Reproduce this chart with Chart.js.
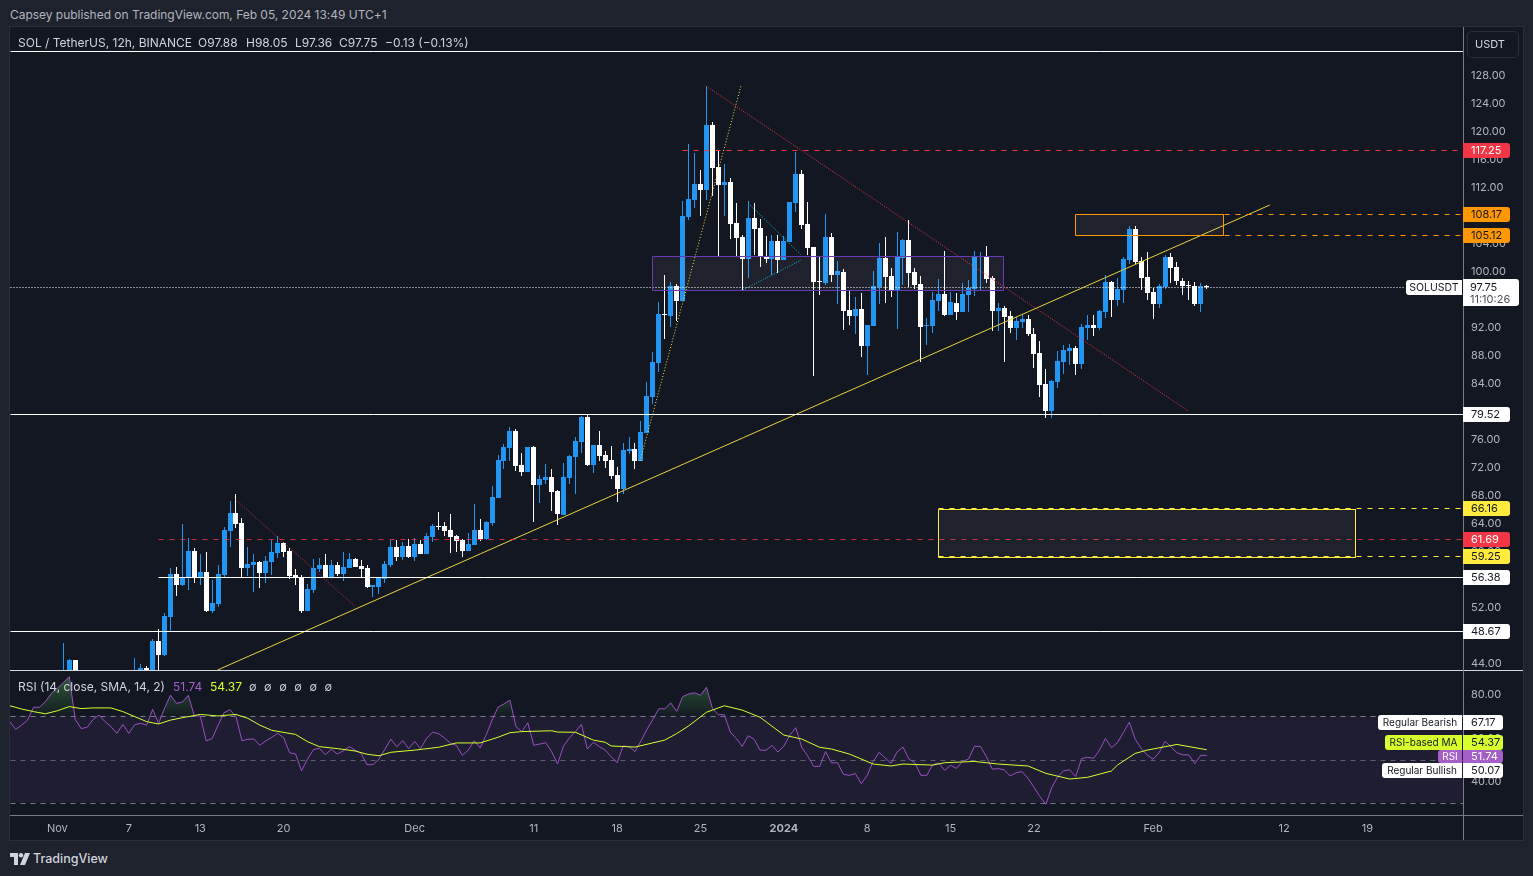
<!DOCTYPE html>
<html>
<head>
<meta charset="utf-8">
<title>SOL / TetherUS</title>
<script src="https://cdn.jsdelivr.net/npm/chart.js@4/dist/chart.umd.js"></script>
<style>
  html, body { margin: 0; padding: 0; width: 1533px; height: 876px; overflow: hidden; background: #1e222d; font-family: Inter, sans-serif; }
  .abs { position: absolute; white-space: nowrap; }
  #pane { position: absolute; left: 9px; top: 26px; width: 1513px; height: 813px; background: #131722; border: 1px solid #2a2e39; }
  canvas { position: absolute; left: 10px; }
  #priceChart { top: 28px; }
  #rsiChart { top: 671px; }
  .legend { color: #d1d4dc; font-size: 12px; line-height: 16px; }
  #usdt { left: 1467px; top: 31px; width: 44px; padding-right: 6px; height: 25px; border: 1px solid #2a2e39; border-radius: 5px; color: #d1d4dc; font-size: 11px; line-height: 25px; text-align: center; }
</style>
</head>
<body>
<div id="pane"></div>
<!-- pane separators -->
<div class="abs" style="left:10px;top:670px;width:1513px;height:1px;background:#d6d8df"></div>
<div class="abs" style="left:10px;top:815px;width:1513px;height:1px;background:#787b86"></div>
<div class="abs" style="left:1463px;top:27px;width:1px;height:813px;background:#787b86"></div>

<canvas id="priceChart" width="1513" height="642"></canvas>
<canvas id="rsiChart" width="1513" height="169"></canvas>

<div class="abs" style="left:10px;top:7px;color:#b2b5be;font-size:12px;line-height:16px;letter-spacing:-0.03px">Capsey published on TradingView.com, Feb 05, 2024 13:49 UTC+1</div>
<div class="abs legend" style="left:18px;top:35px">SOL / TetherUS, 12h, BINANCE</div>
<div class="abs legend" style="left:198px;top:35px">O97.88</div>
<div class="abs legend" style="left:246px;top:35px">H98.05</div>
<div class="abs legend" style="left:295px;top:35px">L97.36</div>
<div class="abs legend" style="left:339px;top:35px">C97.75</div>
<div class="abs legend" style="left:385px;top:35px">−0.13 (−0.13%)</div>
<div class="abs" id="usdt">USDT</div>

<div class="abs legend" style="left:18px;top:679px">RSI (14, close, SMA, 14, 2)</div>
<div class="abs legend" style="left:173px;top:679px;color:#a45fc9">51.74</div>
<div class="abs legend" style="left:210px;top:679px;color:#d7ff2e">54.37</div>
<div class="abs legend" style="left:249px;top:679px;font-size:11px;word-spacing:4.5px">∅ ∅ ∅ ∅ ∅ ∅</div>

<svg class="abs" style="left:10px;top:853px" width="20" height="12" viewBox="0 0 20 12">
  <path d="M0 0h8v12H4V4H0z" fill="#d1d4dc"/><circle cx="11" cy="2.2" r="2.2" fill="#d1d4dc"/><path d="M15 0h5l-5 12h-5z" fill="#d1d4dc"/>
</svg>
<div class="abs" style="left:33px;top:851px;color:#d1d4dc;font-size:12.5px;line-height:16px;font-weight:500">TradingView</div>

<script>
// candles, array position = bar number, null = below the visible pane
const barOpen = [
  41,42,44.43,null,null,null,null,null,null,null,null,null,41.5,42.5,43.3,42.5,47.14,45.14,50.57,56.71,
  55.14,56.29,60,56.29,57,51.43,52.43,56.57,62.86,65.43,64,57.57,58,58.43,56.86,58.43,59.71,61.14,60,56.57,
  56.29,51.43,54.43,57.43,58,56.29,58,56.71,57.57,58.86,57.86,57.57,54.86,54.86,56,58,60.57,59.14,60.71,59.14,
  61,59.57,62,63.57,63.57,63,62.14,61.57,60,60.86,63,61.71,64,67.57,72.86,74.71,77.14,72.29,71.29,74.86,
  69.43,70.14,70.57,68.57,65.14,70.43,73.43,75.57,79.14,72.29,75.14,73.71,73,70.86,68.86,74.29,74.57,72.86,76.86,82,
  86.86,93.8,93.57,97.86,95.71,107.71,110.14,112.43,111.57,120.86,114.86,112.29,112.71,106.86,104.86,101.71,107.57,106.14,102,101.71,
  104.29,101.57,104.14,109.71,113.86,106.71,103.43,98.57,98.29,104.86,99.43,99.86,94.43,93.57,94.57,89.29,92.14,97.71,101.86,99.29,
  97.29,101.86,104.43,99.86,98.14,92.14,92.14,95.71,96.71,93.71,95.43,94.14,96.57,97.43,102,102,99,94.29,94.71,93.57,
  91.86,92.71,93.14,91,88.29,83.86,80,84.14,87,88.57,89,86.71,91.86,92.29,91.86,94.14,98.43,95.86,97.29,101.57,
  106,101.43,99.14,97,95.29,97.71,102,100.57,98.57,98,97.86,95.29,97.88
];
const barHigh = [
  46.86,44.57,44.43,null,null,null,null,null,null,null,null,null,44.71,43.86,43.57,47.43,48.86,51.14,57.57,57.71,
  63.86,61.86,60.43,59.57,59.86,55.86,58,63.43,67.14,68.14,64.71,60.57,59.57,58.57,59.29,61.57,62.14,61.29,60.43,57.43,
  56.57,55.29,58.86,59,59.57,58.71,58.43,59.86,59.71,59,58.71,58,55.14,56.14,58.57,61.57,61.57,61.29,61.71,61.86,
  61.57,62.57,63.86,65.57,64.14,65.29,62.29,61.71,62.57,66.71,64.57,64.29,69.29,73.71,75.29,77.71,77.43,74,74.86,75,
  70.86,72.43,71.71,68.71,72.57,73.71,76.29,79.29,79.43,75.14,77.14,74.29,75,72,75.43,76.29,75.43,78.57,84.14,88.43,
  95.57,99.43,98.43,98.14,110,118.14,116.86,114.43,126.43,121.29,117.14,115.29,113.29,109.71,105.14,110,109.71,107.43,105,105.14,
  105.14,105,109.86,117,114.43,109.86,103.43,102,108.14,105.43,101.43,100.29,97.14,96.29,96.86,92.29,100,104,104.86,100.43,
  105.57,104.57,107.29,100.43,99.29,93.29,97,98.86,102.86,97,96.86,98.29,98.71,102.86,102.71,103.57,99.29,95.43,95,94.29,
  93.43,93.86,93.71,91.86,90,86,84.43,88.57,89.43,89.57,89.29,92.43,93.71,93.71,94.43,99.43,98.57,99,102,106.43,
  106.43,102,102.71,97.57,98.14,102.29,102.57,101.29,99,98.57,98.43,98.29,98.05
];
const barLow = [
  40.5,41.5,41.8,null,null,null,null,null,null,null,null,null,41,42.2,42,42.2,42.5,45,48.57,53.57,
  55,54.43,55.43,55.14,51.29,51.14,52,56.29,60.57,63.29,56.29,56.43,54.14,54.71,55.43,56.57,59,59.14,56,55.14,
  51.14,51.43,54,57,56.14,56.29,56.43,55.71,57.57,57.71,56.29,54.71,53.43,53.86,55.43,57.71,58.57,58.71,59,58.57,
  59.57,59.57,61.29,63,62.14,59.71,59.86,59.14,60,60.86,61.43,61.57,63.57,67.57,71.71,72.86,71.43,70.71,71.29,64.14,
  66.86,69.57,65.71,63.71,65.14,69.57,68.14,74,72.14,71.14,72.86,71.86,70.29,67,68.14,73.86,71.71,72.86,76.86,81,
  85.57,90.29,92,92.86,95.71,107.29,109,107.86,110.14,110.71,102.14,107.86,104.57,102.14,97.29,99,102.29,100.57,101.14,99.43,
  99.71,101.57,104.14,108.43,106,102.29,85,96.57,98,98.43,95.29,91.57,92.29,91,87.71,85.14,92.14,95.29,95.43,96.29,
  91.71,98,97.71,97.43,87,89.43,91.14,94.29,93.57,93.71,93,94.14,94.14,96.43,97.29,98.29,91.43,91.43,87,91.14,
  90.14,91.86,90.71,86.14,82,79,79,83.29,85.29,86.57,85.14,86,90.14,90.71,91.57,93.29,93.43,95,95.43,101,
  101,97.29,95.86,93.14,94.71,97.43,98.29,98,96.57,95.86,95,94.14,97.36
];
const barClose = [
  42,44.43,42.5,null,null,null,null,null,null,null,null,null,42.5,43.3,42.5,47.14,45.14,50.71,56.71,55.14,
  56.14,60,56.29,57,51.43,52.57,56.71,63,65.43,63.86,57.57,58.14,58.43,56.86,58.57,59.86,61.14,59.86,56.43,56.29,
  51.43,54.57,57.57,58,56.29,58,56.71,57.71,58.86,57.71,57.43,54.86,55.1,56.14,58.14,60.57,59.14,60.71,59.14,61,
  59.57,62.14,63.57,63.43,62.86,62,61.43,60,61,63,61.71,64.14,67.71,73,74.86,77.14,72.14,71.29,74.86,69.43,
  70.29,70.57,68.43,65.29,70.57,73.57,75.71,79.14,72.29,75.14,73.57,72.86,70.71,68.86,74.43,74.57,72.86,77,82.14,87,
  93.86,93.7,97.86,95.71,107.86,110.29,112.43,111.57,120.86,114.71,112.29,112.71,106.71,104.71,101.71,107.57,106,102,101.71,104.29,
  101.57,104.29,109.86,113.86,106.57,103.29,98.43,98.43,104.86,99.43,100,94.29,93.57,94.57,89.29,92.29,97.86,101.86,99.14,97.29,
  102,104.43,99.71,98,92,92.29,95.86,96.71,93.71,95.57,94.14,96.71,97.57,102.14,102.14,98.86,94.29,94.71,93.43,91.86,
  92.86,93.14,91,88.14,83.71,80,84.29,87.14,88.71,89,86.71,92,92.29,91.86,94.29,98.43,95.86,97.43,101.71,106,
  101.29,99,96.86,95.29,97.86,102,100.43,98.57,97.86,97.86,95.29,97.86,97.75
];

// rsi starts 9 bars before the first candle
const rsiFirstBar = -9;
const rsiValues = [
  67.3,63.7,65.7,68,73.9,73.9,76.5,80.3,82.6,85.2,88,68.3,64.1,64.7,68.3,70.3,67.3,65,61.9,66,
  61.9,65.9,66.5,65.7,72.9,66.5,73.4,79.5,75.7,76.3,79.4,69.9,69.9,58.4,59.6,65.7,71.4,72.8,69.6,58.5,
  59.2,59.3,56.4,58.4,60.1,61.9,59.9,53,52.4,44.7,50,54.4,55,52.1,54.6,52.4,53.8,55.8,54.2,52.7,
  47.5,47.5,50,54.6,59.2,55.8,58.5,54.9,58.2,54.9,59.6,62.4,61.8,59.8,57.3,56.4,51.8,54.2,58.5,55.2,
  61.1,68,73.9,75.4,77.2,65,62.7,66.8,56.4,57,57.6,53.5,47.8,56.1,59.9,62.7,66,54.7,57.8,55.8,
  54.2,51.2,48.4,56.1,55.8,53.5,58.4,63.7,68.3,73.2,73.2,75.9,72,78.8,80,80.6,79.4,83.1,73.4,70.5,
  70.5,62.5,59.6,55.9,60.8,59.2,54.2,54.1,56.4,53.3,56.1,61.1,64.5,55.5,51.5,46.7,46.7,53.5,48.3,48.4,
  43.1,42.6,43.4,38.8,42.6,49,53.2,50.6,48.1,53.3,55.6,50.1,48.4,42.6,42.6,47.5,48.3,44.9,47.2,45.8,
  49,50.1,55.9,55.9,51.2,45.4,45.7,45.1,42.3,43.8,44.3,41.2,37.1,32.8,29.3,37.1,42,44.7,45.1,42,
  50.3,50.9,50.4,54.2,59.6,55.3,57.6,62.2,67,59.2,55,52,50,53,58.2,55.8,53,52,52,48,
  51.8,51.74
];
const maBars = [
  -9,-7,-5,-3,-1,1,3,5,8,10,12,14,16,18,20,23,26,29,31,33,35,39,41,43,46,49,51,53,55,59,63,66,70,73,
  75,77,82,83,86,89,91,92,96,101,103,105,108,111,114,117,121,124,127,129,132,136,139,141,146,148,153,157,
  162,165,169,172,176,177,180,182,187,192
];
const maValues = [
  74.6,73.1,71.9,70.9,72.3,74.2,73.3,73.6,73.6,71.9,69.6,67.3,66.2,68,69.1,70.6,69.9,70.6,68.8,65.7,63.3,61.4,58.1,55.8,54.9,53.8,52.3,51.6,53.2,54.2,55.5,57.5,57.5,60.1,
  62.2,62.7,63.1,62.5,62.4,58.8,57.8,56.1,55.6,58.8,61.8,65.3,71.6,74.6,72.6,69.3,61.1,59.3,55.5,54.7,52.4,47.8,46.9,47.8,47.3,48.4,49,47.8,
  46.9,43.5,40.9,41.7,44.6,47.3,52.7,54.2,56.8,54.37
];

const priceTicks = [44,48,52,56,60,64,68,72,76,80,84,88,92,96,100,104,108,112,116,120,124,128];
const rsiTicks = [40,60,80];
const dateTicks = [-1,11,23,37,59,79,93,107,121,135,149,163,183,205,219];
const dateLabels = ["Nov","7","13","20","Dec","11","18","25","2024","8","15","22","Feb","12","19"];

const levelPrices = [131.43,79.52,56.28,48.53];
const levelStarts = [-8.95,-8.95,16,-8.95];
const dashPrices = [117.25,108.17,105.12,66.16,61.69,59.25];
const dashStarts = [104,195,195,146.9,16,146.9];
const dashColors = ["#f23645","#ff9800","#ff9800","#ffeb3b","rgba(242,54,69,.8)","#ffeb3b"];
const lastPrice = 97.75;
const boxes = [
  { from: 98.86, to: 157.8, top: 102.14, bottom: 97.3, color: "#673ab7" },
  { from: 169.9, to: 194.9, top: 108.14, bottom: 105.12, color: "#ff9800" },
  { from: 146.9, to: 217.05, top: 66, bottom: 59.1, color: "#ffeb3b" },
];
const trendLines = [
  { x1: 25.9, y1: 43, x2: 202.6, y2: 109.43, color: "#e6d33a", dash: [] },
  { x1: 107.9, y1: 126.43, x2: 188.9, y2: 80, color: "#f23645", dash: [1,1.5] },
  { x1: 28.8, y1: 67.43, x2: 48.95, y2: 52.14, color: "rgba(242,54,69,.8)", dash: [1,1.5] },
  { x1: 96.85, y1: 72.86, x2: 113.8, y2: 126.43, color: "#ffeb3b", dash: [1,2] },
  { x1: 115, y1: 109.71, x2: 123.9, y2: 102.29, color: "#00bcd4", dash: [1,1.5] },
  { x1: 114.1, y1: 97.29, x2: 123.9, y2: 101.57, color: "#00bcd4", dash: [1,1.5] },
];

// tags on the price axis
const priceTagValues = [117.25,108.17,105.12,79.52,66.16,61.69,59.25,56.28,48.53];
const priceTagLabels = ["117.25","108.17","105.12","79.52","66.16","61.69","59.25","56.38","48.67"];
const priceTagFills = ["#f23645","#ff9800","#ff9800","#ffffff","#ffeb3b","#f23645","#ffeb3b","#ffffff","#ffffff"];
const priceTagTexts = ["#ffffff","#131722","#131722","#131722","#131722","#ffffff","#131722","#131722","#131722"];

const rsiTagLabels = ["67.17","54.37","51.74","50.07"];
const rsiTagNames = ["Regular Bearish","RSI-based MA","RSI","Regular Bullish"];
const rsiTagNameWidths = [84,77,24,80];
const rsiTagFills = ["#ffffff","#d7ff2e","#a45fc9","#ffffff"];
const rsiTagTexts = ["#131722","#131722","#ffffff","#131722"];
// labels are pushed apart in the original so they do not overlap
const rsiTagTops = [715,735,750,763];
const rsiTagHeights = [15,15,13,15];

const xMin = -8.95, xMax = 235.04;
const blue = "#2196f3";

Chart.defaults.font.family = "Inter, sans-serif";
Chart.defaults.font.size = 11;
Chart.defaults.animation = false;

function pointsOf(x1, y1, x2, y2) {
  return [{ x: x1, y: y1 }, { x: x2, y: y2 }];
}

function lineSet(data, color, extra) {
  return Object.assign({
    type: "line", data: data, borderColor: color, borderWidth: 1, pointRadius: 0,
    tension: 0, fill: false, order: 10,
  }, extra);
}

function candleSets() {
  const wicks = [], bodies = [], colors = [];
  barOpen.forEach((o, i) => {
    if (o === null) return;
    wicks.push({ x: i, y: [barLow[i], barHigh[i]] });
    bodies.push({ x: i, y: [Math.min(o, barClose[i]), Math.max(o, barClose[i])] });
    colors.push(barClose[i] >= o ? blue : "#ffffff");
  });
  const base = { type: "bar", backgroundColor: colors, borderWidth: 0, inflateAmount: 0, grouped: false };
  return [
    Object.assign({ data: wicks, barThickness: 1, order: 30, snap: true }, base),
    Object.assign({ data: bodies, barThickness: 5, order: 29, snap: true }, base),
  ];
}

function drawingSets() {
  const sets = [];
  levelPrices.forEach((p, i) => {
    sets.push(lineSet(pointsOf(levelStarts[i], p, xMax, p), "#ffffff", { snap: true }));
  });
  dashPrices.forEach((p, i) => {
    sets.push(lineSet(pointsOf(dashStarts[i], p, xMax, p), dashColors[i], { snap: true, borderDash: [5, 6] }));
  });
  boxes.forEach(b => {
    const corners = [
      { x: b.from, y: b.top }, { x: b.to, y: b.top }, { x: b.to, y: b.bottom },
      { x: b.from, y: b.bottom }, { x: b.from, y: b.top },
    ];
    sets.push(lineSet(corners, b.color, { snap: true, fill: "shape", backgroundColor: "rgba(255,255,255,.05)", order: 9 }));
  });
  trendLines.forEach(t => {
    sets.push(lineSet(pointsOf(t.x1, t.y1, t.x2, t.y2), t.color, { borderDash: t.dash }));
  });
  // last price, stops at the SOLUSDT label
  sets.push(lineSet(pointsOf(xMin, lastPrice, 225.3, lastPrice), "#ffffff", { snap: true, borderDash: [1, 2] }));
  return sets;
}

// snap to whole pixels so wicks and levels stay crisp like the original
const snapPlugin = {
  id: "snap",
  afterDatasetsUpdate(chart) {
    chart.data.datasets.forEach((ds, i) => {
      if (!ds.snap) return;
      chart.getDatasetMeta(i).data.forEach(el => {
        if (ds.type === "bar") {
          el.x = Math.floor(el.x) + 0.5;
          el.y = Math.round(el.y);
          el.base = Math.round(el.base);
          if (el.base === el.y) el.base = el.y + 1;
          el.height = el.base - el.y;
        } else {
          el.y = Math.round(el.y) + 0.5;
          el.x = Math.floor(el.x) + 0.5;
        }
      });
    });
  },
};

function tag(ctx, x, y, w, h, fill, text, color, radii, centered) {
  ctx.fillStyle = fill;
  ctx.beginPath();
  ctx.roundRect(x, y, w, h, radii);
  ctx.fill();
  ctx.fillStyle = color;
  ctx.textBaseline = "middle";
  ctx.textAlign = centered ? "center" : "left";
  ctx.fillText(text, centered ? x + w / 2 : x + 8, y + h / 2 + 0.5);
}

const priceTagPlugin = {
  id: "priceTags",
  afterDraw(chart) {
    const ctx = chart.ctx, y = chart.scales.y, axisX = chart.chartArea.right;
    ctx.save();
    ctx.font = "11px Inter, sans-serif";
    priceTagValues.forEach((v, i) => {
      const py = Math.round(y.getPixelForValue(v));
      tag(ctx, axisX, py - 7, 47, 15, priceTagFills[i], priceTagLabels[i], priceTagTexts[i], [0, 3, 3, 0]);
    });
    // last price with countdown
    const py = Math.round(y.getPixelForValue(lastPrice));
    ctx.fillStyle = "#ffffff";
    ctx.beginPath();
    ctx.roundRect(axisX, py - 8, 56, 27, [0, 3, 3, 0]);
    ctx.fill();
    ctx.textBaseline = "middle";
    ctx.textAlign = "left";
    ctx.fillStyle = "#131722";
    ctx.fillText("97.75", axisX + 7, py + 1);
    ctx.fillStyle = "#4a4e5a";
    ctx.fillText("11:10:26", axisX + 7, py + 13);
    ctx.font = "10.5px Inter, sans-serif";
    tag(ctx, axisX - 57, py - 7, 56, 15, "#ffffff", "SOLUSDT", "#131722", [3, 0, 0, 3], true);
    ctx.restore();
  },
};

const rsiTagPlugin = {
  id: "rsiTags",
  afterDraw(chart) {
    const ctx = chart.ctx, axisX = chart.chartArea.right;
    ctx.save();
    rsiTagLabels.forEach((label, i) => {
      const top = rsiTagTops[i] - 671, h = rsiTagHeights[i], w = rsiTagNameWidths[i];
      ctx.font = "10px Inter, sans-serif";
      tag(ctx, axisX - w - 1, top, w, h, rsiTagFills[i], rsiTagNames[i], rsiTagTexts[i], [3, 0, 0, 3], true);
      ctx.font = "11px Inter, sans-serif";
      tag(ctx, axisX, top, 40, h, rsiTagFills[i], label, rsiTagTexts[i], [0, 3, 3, 0]);
    });
    ctx.restore();
  },
};

const flatY = s => { s.width = 60; s.paddingTop = 0; s.paddingBottom = 0; };

new Chart(document.getElementById("priceChart"), {
  type: "bar",
  data: { datasets: candleSets().concat(drawingSets()) },
  options: {
    responsive: false,
    layout: { padding: 0 },
    plugins: { legend: { display: false }, tooltip: { enabled: false } },
    scales: {
      x: { type: "linear", display: false, min: xMin, max: xMax, offset: false },
      y: {
        position: "right", min: 43, max: 134.714,
        grid: { display: false, drawTicks: false },
        border: { display: false },
        afterFit: flatY,
        afterBuildTicks: s => { s.ticks = priceTicks.map(v => ({ value: v })); },
        ticks: { color: "#b2b5be", padding: 8, labelOffset: 1, callback: v => v.toFixed(2) },
      },
    },
  },
  plugins: [snapPlugin, priceTagPlugin],
});

const rsiCanvas = document.getElementById("rsiChart");
const greenFade = rsiCanvas.getContext("2d").createLinearGradient(0, 0, 0, 45);
greenFade.addColorStop(0, "rgba(76,175,80,.5)");
greenFade.addColorStop(1, "rgba(76,175,80,.03)");

const rsiData = rsiValues.map((v, i) => ({ x: i + rsiFirstBar, y: v }));
const maData = maBars.map((b, i) => ({ x: b, y: maValues[i] }));
const bandCorners = [
  { x: xMin, y: 70 }, { x: xMax, y: 70 }, { x: xMax, y: 30 }, { x: xMin, y: 30 }, { x: xMin, y: 70 },
];

new Chart(rsiCanvas, {
  type: "line",
  data: {
    datasets: [
      lineSet(bandCorners, "transparent", { fill: "shape", backgroundColor: "rgba(126,87,194,.1)", borderWidth: 0, order: 50 }),
      lineSet(pointsOf(xMin, 70, xMax, 70), "#787b86", { snap: true, borderDash: [5, 5], order: 40 }),
      lineSet(pointsOf(xMin, 49.7, xMax, 49.7), "rgba(120,123,134,.7)", { snap: true, borderDash: [5, 5], order: 40 }),
      lineSet(pointsOf(xMin, 30, xMax, 30), "#787b86", { snap: true, borderDash: [5, 5], order: 40 }),
      lineSet(rsiData, "#9c50c0", { fill: { target: { value: 70 }, above: greenFade, below: "transparent" }, order: 20 }),
      lineSet(maData, "#d7ff2e", { order: 10 }),
    ],
  },
  options: {
    responsive: false,
    layout: { padding: 0 },
    plugins: { legend: { display: false }, tooltip: { enabled: false } },
    scales: {
      x: {
        type: "linear", min: xMin, max: xMax, offset: false,
        grid: { display: false, drawTicks: false },
        border: { display: false },
        afterFit: s => { s.height = 25; s.paddingLeft = 0; s.paddingRight = 0; },
        afterBuildTicks: s => { s.ticks = dateTicks.map(v => ({ value: v })); },
        ticks: {
          color: "#b2b5be", padding: 7, autoSkip: false, maxRotation: 0,
          callback: v => dateLabels[dateTicks.indexOf(v)],
          font: c => (c.tick && c.tick.value === 121 ? { size: 11, weight: "bold" } : { size: 11 }),
        },
      },
      y: {
        position: "right", min: 24.37, max: 90.57,
        grid: { display: false, drawTicks: false },
        border: { display: false },
        afterFit: flatY,
        afterBuildTicks: s => { s.ticks = rsiTicks.map(v => ({ value: v })); },
        ticks: { color: "#b2b5be", padding: 8, labelOffset: 1, callback: v => v.toFixed(2) },
      },
    },
  },
  plugins: [snapPlugin, rsiTagPlugin],
});
</script>
</body>
</html>
